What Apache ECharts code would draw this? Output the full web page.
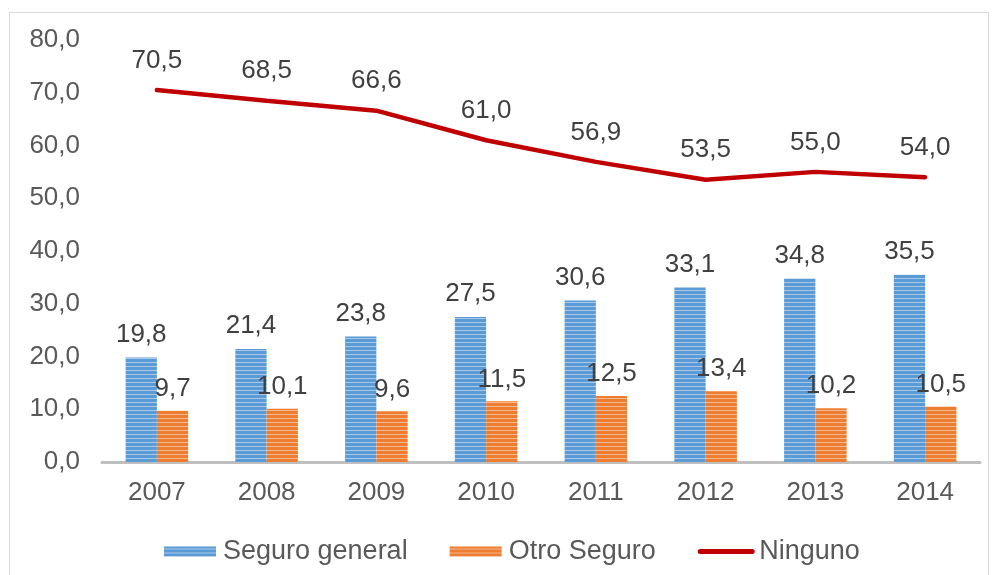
<!DOCTYPE html>
<html>
<head>
<meta charset="utf-8">
<script src="https://cdn.jsdelivr.net/npm/echarts@6/dist/echarts.min.js"></script>
<style>
html,body{margin:0;padding:0;background:#fff;}
#frame{position:absolute;left:9px;top:12px;width:980px;height:600px;border:1px solid #d9d9d9;box-sizing:border-box;}
#main{position:absolute;left:0;top:0;width:993px;height:575px;}
</style>
</head>
<body>
<div id="frame"></div>
<div id="main"></div>
<script>
// datos del grafico
var years = ['2007','2008','2009','2010','2011','2012','2013','2014'];
var seguroGeneral = [19.8, 21.4, 23.8, 27.5, 30.6, 33.1, 34.8, 35.5];
var otroSeguro = [9.7, 10.1, 9.6, 11.5, 12.5, 13.4, 10.2, 10.5];
var ninguno = [70.5, 68.5, 66.6, 61.0, 56.9, 53.5, 55.0, 54.0];

// patron de rayas horizontales
function stripes(base, light) {
	var c = document.createElement('canvas');
	c.width = 4; c.height = 4;
	var ctx = c.getContext('2d');
	ctx.fillStyle = base;
	ctx.fillRect(0, 0, 4, 4);
	ctx.fillStyle = light;
	ctx.fillRect(0, 2, 4, 1);
	return c;
}

function fmt(p) {
	return p.value.toFixed(1).replace('.', ',');
}

var chart = echarts.init(document.getElementById('main'));
var txt = '#595959';
var lbl = '#404040';
var ff = 'Liberation Sans, Arial, sans-serif';

chart.setOption({
	animation: false,
	textStyle: {fontFamily: ff},
	grid: {left: 102, right: 13, top: 40, bottom: 113, containLabel: false},
	legend: {
		top: 533,
		left: 159,
		itemWidth: 52,
		itemHeight: 10,
		itemGap: 42,
		textStyle: {fontSize: 27, color: txt, fontFamily: ff, padding: [0, 0, 0, 2]},
		data: [
			{name: 'Seguro general', icon: 'rect'},
			{name: 'Otro Seguro', icon: 'rect'},
			{name: 'Ninguno', itemStyle: {opacity: 0}, lineStyle: {width: 5, cap: 'round'}}
		]
	},
	xAxis: {
		type: 'category',
		data: years,
		axisLine: {lineStyle: {color: '#bfbfbf', width: 3}},
		axisTick: {show: false},
		axisLabel: {fontSize: 26, color: txt, margin: 18}
	},
	yAxis: {
		type: 'value',
		min: 0,
		max: 80,
		interval: 10,
		splitLine: {show: false},
		axisLine: {show: false},
		axisTick: {show: false},
		axisLabel: {fontSize: 26, color: txt, margin: 22, formatter: function (v) { return v.toFixed(1).replace('.', ','); }}
	},
	series: [
		{
			name: 'Seguro general',
			type: 'bar',
			data: seguroGeneral,
			barWidth: '28.5%',
			barGap: '0%',
			itemStyle: {color: {image: stripes('#5b9bd5', '#a9c9ec'), repeat: 'repeat'}},
			label: {show: true, position: 'top', distance: 10, fontSize: 26, color: lbl, formatter: fmt}
		},
		{
			name: 'Otro Seguro',
			type: 'bar',
			data: otroSeguro,
			barWidth: '28.5%',
			itemStyle: {color: {image: stripes('#ed7d31', '#f6b88e'), repeat: 'repeat'}},
			label: {show: true, position: 'top', distance: 9, fontSize: 26, color: lbl, formatter: fmt}
		},
		{
			name: 'Ninguno',
			type: 'line',
			data: ninguno,
			symbol: 'circle',
			symbolSize: 1,
			lineStyle: {color: '#c00000', width: 4.5, cap: 'round'},
			itemStyle: {color: '#c00000'},
			label: {show: true, position: 'top', distance: 16, fontSize: 26, color: lbl, formatter: fmt}
		}
	]
});
</script>
</body>
</html>
